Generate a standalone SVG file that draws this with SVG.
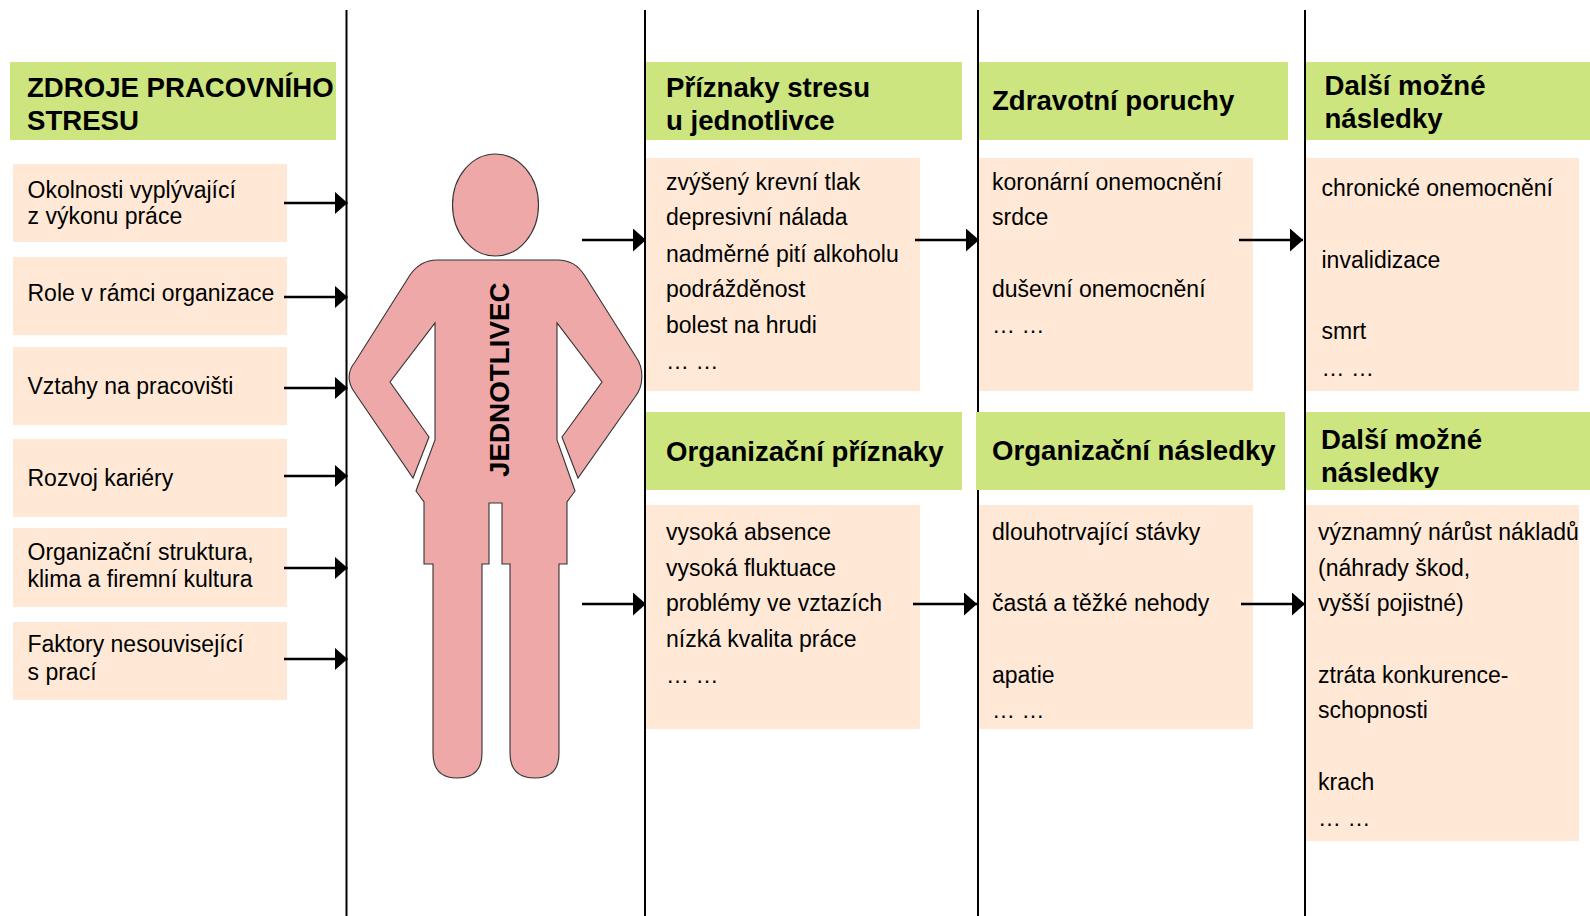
<svg xmlns="http://www.w3.org/2000/svg" width="1590" height="916" viewBox="0 0 1590 916">
<style>
text{font-family:"Liberation Sans",Arial,sans-serif;fill:#000}
.h{fill:#cce57f}
.b{fill:#ffe9d6}
.ht{font-size:27.6px;font-weight:bold}
.t{font-size:23px}
.v{stroke:#000;stroke-width:2;fill:none}
.c{stroke:#000;stroke-width:2.5;fill:none;marker-end:url(#a)}
.f{fill:#eea8a8;stroke:#333;stroke-width:1.1}
</style>
<defs><marker id="a" markerUnits="userSpaceOnUse" markerWidth="14" markerHeight="24" refX="13" refY="11.500" orient="auto" viewBox="0 0 14 24"><path d="M0 0L13 11.500L0 23Z" fill="#000"/></marker></defs>
<g id="connectors">
<path class="v" d="M346.500 10V916M645 10V916M978 10V916M1305 10V916"/>
</g>
<g id="src-head"><rect class="h" x="10" y="62" width="326" height="78"/><text class="ht"><tspan x="27" y="97">ZDROJE PRACOVNÍHO</tspan><tspan x="27" y="129.500">STRESU</tspan></text></g>
<g id="src-1"><rect class="b" x="13" y="164" width="274" height="78"/><text class="t"><tspan x="27.500" y="197.500">Okolnosti vyplývající</tspan><tspan x="27.500" y="224">z výkonu práce</tspan></text></g>
<g id="src-2"><rect class="b" x="13" y="257" width="274" height="78"/><text class="t" x="27.500" y="301">Role v rámci organizace</text></g>
<g id="src-3"><rect class="b" x="13" y="347" width="274" height="78"/><text class="t" x="27.500" y="394">Vztahy na pracovišti</text></g>
<g id="src-4"><rect class="b" x="13" y="439" width="274" height="78"/><text class="t" x="27.500" y="486">Rozvoj kariéry</text></g>
<g id="src-5"><rect class="b" x="13" y="528" width="274" height="79"/><text class="t"><tspan x="27.500" y="560">Organizační struktura,</tspan><tspan x="27.500" y="587">klima a firemní kultura</tspan></text></g>
<g id="src-6"><rect class="b" x="13" y="622" width="274" height="78"/><text class="t"><tspan x="27.500" y="652">Faktory nesouvisející</tspan><tspan x="27.500" y="680">s prací</tspan></text></g>
<g id="figure">
<ellipse class="f" cx="495.500" cy="205" rx="43" ry="51"/>
<path class="f" d="M437 260H557C570 260 578 265 585 276L636 357C644 368 644 386 635 397L578 478L562 437L602 382L557 323V440L575 491L567 502V564H559V753C559 770 550 778 535 778C519 778 510 770 510 753V564H502V503H489V564H482V753C482 770 473 778 457 778C442 778 433 770 433 753V564H424V502L416 491L435 440V323L390 382L429 437L413 478L355 393C347 382 347 372 355 362L410 275C417 265 425 260 437 260Z"/>
<text transform="translate(509 477) rotate(-90)" font-size="27.800" font-weight="bold">JEDNOTLIVEC</text>
</g>
<g id="sym-head"><rect class="h" x="646" y="62" width="316" height="78"/><text class="ht"><tspan x="666" y="97">Příznaky stresu</tspan><tspan x="666" y="130">u jednotlivce</tspan></text></g>
<g id="sym-list"><rect class="b" x="646" y="158" width="274" height="233"/><text class="t"><tspan x="666" y="190">zvýšený krevní tlak</tspan><tspan x="666" y="225">depresivní nálada</tspan><tspan x="666" y="262">nadměrné pití alkoholu</tspan><tspan x="666" y="297">podrážděnost</tspan><tspan x="666" y="333">bolest na hrudi</tspan><tspan x="666" y="369">… …</tspan></text></g>
<g id="org-head"><rect class="h" x="646" y="412" width="316" height="78"/><text class="ht" x="666" y="461">Organizační příznaky</text></g>
<g id="org-list"><rect class="b" x="646" y="505" width="274" height="224"/><text class="t"><tspan x="666" y="540">vysoká absence</tspan><tspan x="666" y="576">vysoká fluktuace</tspan><tspan x="666" y="611">problémy ve vztazích</tspan><tspan x="666" y="647">nízká kvalita práce</tspan><tspan x="666" y="683">… …</tspan></text></g>
<g id="health-head"><rect class="h" x="979" y="62" width="309" height="78"/><text class="ht" x="992" y="110">Zdravotní poruchy</text></g>
<g id="health-list"><rect class="b" x="979" y="158" width="274" height="233"/><text class="t"><tspan x="992" y="190">koronární onemocnění</tspan><tspan x="992" y="225">srdce</tspan><tspan x="992" y="297">duševní onemocnění</tspan><tspan x="992" y="333">… …</tspan></text></g>
<g id="orgc-head"><rect class="h" x="976" y="412" width="309" height="78"/><text class="ht" x="992" y="460">Organizační následky</text></g>
<g id="orgc-list"><rect class="b" x="979" y="505" width="274" height="224"/><text class="t"><tspan x="992" y="540">dlouhotrvající stávky</tspan><tspan x="992" y="611">častá a těžké nehody</tspan><tspan x="992" y="683">apatie</tspan><tspan x="992" y="718">… …</tspan></text></g>
<g id="next1-head"><rect class="h" x="1306" y="62" width="284" height="78"/><text class="ht"><tspan x="1324.500" y="95">Další možné</tspan><tspan x="1324.500" y="128">následky</tspan></text></g>
<g id="next1-list"><rect class="b" x="1306" y="158" width="273" height="233"/><text class="t"><tspan x="1321.500" y="196">chronické onemocnění</tspan><tspan x="1321.500" y="268">invalidizace</tspan><tspan x="1321.500" y="339">smrt</tspan><tspan x="1321.500" y="376">… …</tspan></text></g>
<g id="next2-head"><rect class="h" x="1306" y="412" width="284" height="78"/><text class="ht"><tspan x="1321" y="448.500">Další možné</tspan><tspan x="1321" y="482">následky</tspan></text></g>
<g id="next2-list"><rect class="b" x="1306" y="505" width="273" height="336"/><text class="t"><tspan x="1318" y="540">významný nárůst nákladů</tspan><tspan x="1318" y="576">(náhrady škod,</tspan><tspan x="1318" y="611">vyšší pojistné)</tspan><tspan x="1318" y="683">ztráta konkurence-</tspan><tspan x="1318" y="718">schopnosti</tspan><tspan x="1318" y="790">krach</tspan><tspan x="1318" y="826">… …</tspan></text></g>
<g id="arrows">
<path class="c" d="M284 203H347.500"/>
<path class="c" d="M284 297H347.500"/>
<path class="c" d="M284 388H347.500"/>
<path class="c" d="M284 476H347.500"/>
<path class="c" d="M284 568H347.500"/>
<path class="c" d="M284 659H347.500"/>
<path class="c" d="M582 240H646"/>
<path class="c" d="M915 240H979"/>
<path class="c" d="M1239 240H1303"/>
<path class="c" d="M582 604H646"/>
<path class="c" d="M913 604H977"/>
<path class="c" d="M1241 604H1305"/>
</g>
</svg>
